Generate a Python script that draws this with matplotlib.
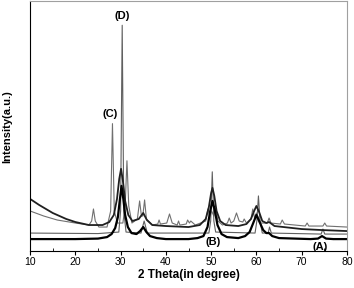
import matplotlib
matplotlib.use("Agg")
import matplotlib.pyplot as plt

# pattern (A): thick black, broad peaks
a_theta = [10, 20, 25, 27, 28, 28.8, 29.4, 29.8, 30.2, 30.6, 31.0, 31.6, 32.4, 33.5, 34.3,
           35, 35.7, 36.5, 38, 40, 45, 47, 48.3, 49.2, 49.8, 50.3, 50.8, 51.4, 52.3, 53.5, 56,
           57.5, 58.5, 59.3, 60, 60.7, 61.5, 62.2, 62.8, 63.5, 65, 72, 73.6, 74.5, 75.4, 77, 80]
a_int = [12, 12, 12.5, 14, 17, 23, 34, 50, 65, 52, 36, 24, 18, 17, 20,
         24, 19, 15, 13, 12, 12, 13, 15, 24, 40, 50, 41, 26, 17, 14, 13,
         15, 19, 28, 36, 29, 21, 18, 18, 15, 13, 12, 12.5, 15, 12.5, 12, 12]

# pattern (B): thin grey, sharp tetragonal peaks
b_theta = [10, 25, 29.6, 30.0, 30.35, 30.7, 31.2, 34.5, 35.2, 35.9, 49.5, 49.9, 50.25,
           50.6, 51.0, 59.7, 60.1, 60.45, 60.8, 61.3, 62.6, 62.9, 63.3, 74.3, 74.7, 75.1, 80]
b_int = [18, 17.5, 19, 40, 225, 40, 19, 18, 30, 18, 18, 30, 79,
         30, 19, 18, 30, 55, 30, 18, 18, 24, 18, 17, 22, 17, 17]

# pattern (C): grey, monoclinic peaks
c_theta = [10, 13, 16, 20, 23, 23.6, 24.0, 24.4, 25.2, 27.0, 27.8, 28.2, 28.6, 29.3, 30.5,
           31.0, 31.4, 31.8, 32.5, 33.7, 34.2, 34.6, 34.9, 35.3, 35.7, 37, 38.2, 38.5, 38.8,
           40.2, 40.8, 41.4, 42.5, 42.8, 43.1, 44.5, 44.8, 45.2, 45.5, 46.5, 48.8, 49.3, 49.7,
           50.1, 50.6, 51.0, 51.5, 52.5, 53.6, 54.0, 54.4, 55.0, 55.6, 56.2, 57.0, 57.3, 57.8,
           58.8, 59.2, 59.6, 60.0, 61.0, 62.4, 62.8, 63.2, 65.3, 65.7, 66.2, 70.8, 71.2, 71.6,
           74.7, 75.1, 75.5, 80]
c_int = [40, 35, 31, 28, 26, 30, 42, 30, 24, 24, 40, 127, 40, 28, 28,
         45, 90, 45, 28, 32, 50, 35, 35, 51, 32, 26, 27, 31, 27,
         28, 37, 28, 26, 30, 26, 27, 31, 28, 30, 26, 30, 42, 34,
         40, 35, 43, 30, 26, 28, 33, 28, 30, 38, 30, 29, 32, 28,
         32, 42, 33, 38, 28, 28, 33, 28, 27, 31, 27, 25, 28, 25,
         25, 28, 25, 24]

# pattern (D): dark, decaying background with broad peaks
d_theta = [10, 12, 15, 18, 20, 23, 26, 27.5, 28.5, 29.2, 29.7, 30.1, 30.5, 31.0, 31.7, 32.6,
           34, 35, 35.8, 37, 40, 45, 47.5, 48.8, 49.5, 50.0, 50.3, 50.7, 51.2, 52, 53.2, 56,
           57.8, 58.8, 59.5, 60.0, 60.6, 61.3, 62.2, 62.8, 64, 70, 74.5, 80]
d_int = [52, 46, 38, 32, 29, 26, 26, 29, 36, 52, 72, 82, 70, 50, 36, 30,
         32, 38, 31, 26, 25, 24, 26, 32, 44, 58, 63, 55, 40, 30, 26, 25,
         27, 32, 40, 45, 39, 30, 28, 29, 25, 22, 21, 20]

labels = ["(A)", "(B)", "(C)", "(D)"]
label_x = [74.0, 50.4, 27.7, 30.3]
label_y = [4, 9, 137, 234]

fig = plt.figure(figsize=(3.54, 2.88), dpi=100)
ax = fig.add_axes([0.085, 0.128, 0.895, 0.868])

ax.plot(c_theta, c_int, color="#707070", lw=0.8)
ax.plot(b_theta, b_int, color="#606060", lw=0.8)
ax.plot(d_theta, d_int, color="#202020", lw=1.3)
ax.plot(a_theta, a_int, color="black", lw=1.6)

for t, x, y in zip(labels, label_x, label_y):
    ax.text(x, y, t, ha="center", va="center", fontsize=8, fontweight="bold",
            family="Liberation Sans")

ax.set_xlim(10, 80)
ax.set_ylim(0, 249)
ax.set_xticks(range(10, 81, 10))
ax.set_xticks(range(15, 80, 10), minor=True)
ax.set_yticks([])
ax.tick_params(axis="x", which="major", direction="out", length=3, labelsize=7.5, pad=1)
ax.tick_params(axis="x", which="minor", direction="in", length=2)
for lab in ax.get_xticklabels():
    lab.set_family("Liberation Sans")
for s in ["top", "right"]:
    ax.spines[s].set_color("#a0a0a0")
ax.set_xlabel("2 Theta(in degree)", fontsize=8.5, fontweight="bold",
              family="Liberation Sans", labelpad=2)
ax.set_ylabel("Intensity(a.u.)", fontsize=8, fontweight="bold",
              family="Liberation Sans", labelpad=13)

fig.savefig("out.png", dpi=100)
